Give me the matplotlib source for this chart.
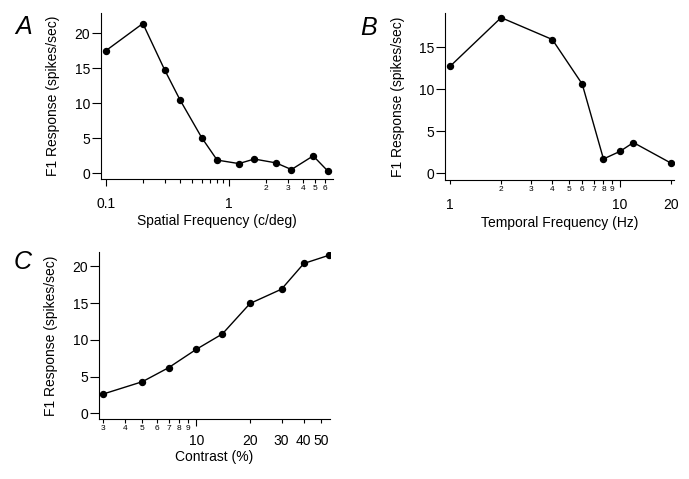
import matplotlib
matplotlib.use("Agg")
import matplotlib.pyplot as plt

plt.rcParams['font.family'] = ['Liberation Sans', 'DejaVu Sans']

# Panel A - spatial frequency tuning
sf = [0.1, 0.2, 0.3, 0.4, 0.6, 0.8, 1.2, 1.6, 2.4, 3.2, 4.8, 6.3]
sf_resp = [17.5, 21.4, 14.8, 10.5, 5.1, 1.9, 1.4, 2.05, 1.5, 0.55, 2.5, 0.35]

# Panel B - temporal frequency tuning
tf = [1, 2, 4, 6, 8, 10, 12, 20]
tf_resp = [12.7, 18.5, 15.9, 10.6, 1.7, 2.6, 3.65, 1.2]

# Panel C - contrast response
contrast = [3, 5, 7, 10, 14, 20, 30, 40, 55]
con_resp = [2.6, 4.3, 6.2, 8.7, 10.8, 14.95, 16.9, 20.4, 21.5]

# tick positions / labels
a_major = [0.1, 1]
a_major_lab = ['0.1', '1']
a_minor = [0.2, 0.3, 0.4, 0.5, 0.6, 0.7, 0.8, 0.9, 2, 3, 4, 5, 6]
a_minor_lab = ['', '', '', '', '', '', '', '', '2', '3', '4', '5', '6']

b_major = [1, 10, 20]
b_major_lab = ['1', '10', '20']
b_minor = [2, 3, 4, 5, 6, 7, 8, 9]
b_minor_lab = ['2', '3', '4', '5', '6', '7', '8', '9']

c_major = [10, 20, 30, 40, 50]
c_major_lab = ['10', '20', '30', '40', '50']
c_minor = [3, 4, 5, 6, 7, 8, 9]
c_minor_lab = ['3', '4', '5', '6', '7', '8', '9']

W, H = 689, 479
fig = plt.figure(figsize=(W / 100, H / 100), dpi=100)


def px_axes(l, t, r, b):
    return fig.add_axes([l / W, 1 - b / H, (r - l) / W, (b - t) / H])


def style(ax, x, y, xlim, ylim, yticks, major, major_lab, minor, minor_lab,
          xlabel, letter, major_pad, xlabelpad, letter_y, short_major=()):
    ax.plot(x, y, color='black', lw=1.0, marker='o', ms=4.3)
    ax.set_xscale('log')
    ax.set_xlim(*xlim)
    ax.set_ylim(*ylim)
    for s in ['top', 'right']:
        ax.spines[s].set_visible(False)
    for s in ['left', 'bottom']:
        ax.spines[s].set_linewidth(0.8)
    ax.set_yticks(yticks)
    ax.tick_params(axis='y', labelsize=10, length=6.5, width=0.8, pad=1.5)
    ax.set_xticks(major, major_lab)
    ax.set_xticks(minor, minor_lab, minor=True)
    ax.tick_params(axis='x', which='major', labelsize=10, length=5, width=0.8, pad=major_pad)
    ax.tick_params(axis='x', which='minor', labelsize=6, length=3, width=0.8, pad=1.2)
    # some labelled decade ticks are drawn short in the original
    for i, t in enumerate(ax.xaxis.get_major_ticks()):
        if major[i] in short_major:
            t.tick1line.set_markersize(3)
    ax.set_ylabel('F1 Response (spikes/sec)', fontsize=10, labelpad=10)
    ax.set_xlabel(xlabel, fontsize=10, labelpad=xlabelpad)
    ax.text(-0.37, letter_y, letter, transform=ax.transAxes, fontsize=18,
            style='italic', ha='left', va='top')


axA = px_axes(101, 13, 333, 179)
style(axA, sf, sf_resp, (0.0916, 6.95), (-0.8, 22.9), [0, 5, 10, 15, 20],
      a_major, a_major_lab, a_minor, a_minor_lab, 'Spatial Frequency (c/deg)', 'A',
      major_pad=8, xlabelpad=2, letter_y=0.985)

axB = px_axes(445, 13, 674, 180)
style(axB, tf, tf_resp, (0.935, 20.8), (-0.8, 19.05), [0, 5, 10, 15],
      b_major, b_major_lab, b_minor, b_minor_lab, 'Temporal Frequency (Hz)', 'B',
      major_pad=8, xlabelpad=3, letter_y=0.985, short_major=(1, 20))

axC = px_axes(99, 252, 330, 419)
style(axC, contrast, con_resp, (2.86, 56), (-0.78, 21.96), [0, 5, 10, 15, 20],
      c_major, c_major_lab, c_minor, c_minor_lab, 'Contrast (%)', 'C',
      major_pad=6, xlabelpad=1, letter_y=1.01, short_major=(20, 30, 40, 50))

fig.savefig('out.png', dpi=100)
